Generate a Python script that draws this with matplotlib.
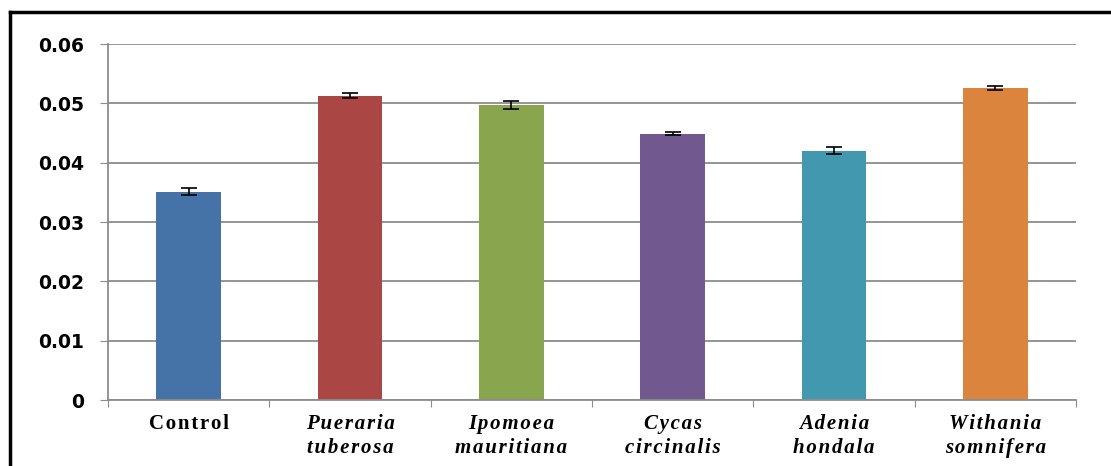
import matplotlib.pyplot as plt
from matplotlib.lines import Line2D

# Absorbance per treatment (mean and error)
labels = ['Control', 'Pueraria\ntuberosa', 'Ipomoea\nmauritiana', 'Cycas\ncircinalis',
          'Adenia\nhondala', 'Withania\nsomnifera']
valores = [0.0351, 0.0513, 0.0497, 0.0449, 0.0420, 0.0526]
errores = [0.0006, 0.0004, 0.0007, 0.0003, 0.0006, 0.0003]
colores = ['#4572A7', '#AA4643', '#89A54E', '#71588F', '#4198AF', '#DB843D']

fig = plt.figure(figsize=(11.11, 4.66), dpi=100)
ax = fig.add_axes([108 / 1111, 1 - 400 / 466, (1076 - 108) / 1111, (400 - 44) / 466])

x = range(len(valores))
ax.bar(x, valores, width=0.4, color=colores, zorder=2)
ax.errorbar(x, valores, yerr=errores, fmt='none', ecolor='black', elinewidth=1.2,
            capsize=5.5, capthick=1.2, zorder=3)

ax.set_xlim(-0.5, len(valores) - 0.5)
ax.set_ylim(0, 0.06)
ax.set_yticks([0, 0.01, 0.02, 0.03, 0.04, 0.05, 0.06])
ax.set_yticklabels(['0', '0.01', '0.02', '0.03', '0.04', '0.05', '0.06'],
                   fontsize=13.5, fontweight='bold', family='DejaVu Sans')
ax.yaxis.grid(True, color='#8c8c8c', linewidth=1.3, zorder=0)
ax.set_axisbelow(True)

# ticks on category boundaries, labels in the middle
ax.set_xticks([i + 0.5 for i in range(-1, len(valores))])
ax.set_xticklabels([])
ax.set_xticks(list(x), minor=True)
sep = '\u200a'
etiquetas = []
for t in labels:
    etiquetas.append('\n'.join(sep.join(linea) for linea in t.split('\n')))
ax.set_xticklabels(etiquetas, minor=True, fontsize=15, fontweight='bold',
                   family=['Liberation Serif', 'DejaVu Serif'], linespacing=1.3)
for i, lab in enumerate(ax.get_xticklabels(minor=True)):
    if i > 0:
        lab.set_style('italic')

ax.tick_params(axis='x', which='major', length=5, color='#8c8c8c', direction='out')
ax.tick_params(axis='x', which='minor', length=0, pad=10)
ax.tick_params(axis='y', length=6, color='#8c8c8c', pad=11)

for s in ['top', 'right']:
    ax.spines[s].set_visible(False)
for s in ['left', 'bottom']:
    ax.spines[s].set_color('#8c8c8c')
    ax.spines[s].set_linewidth(1.3)

# black frame around the chart
fig.add_artist(Line2D([10 / 1111, 10 / 1111], [0, 1 - 12 / 466], color='black', linewidth=2.5,
                      transform=fig.transFigure))
fig.add_artist(Line2D([10 / 1111, 1], [1 - 12 / 466, 1 - 12 / 466], color='black', linewidth=2.5,
                      transform=fig.transFigure))

fig.savefig('out.png', dpi=100)
